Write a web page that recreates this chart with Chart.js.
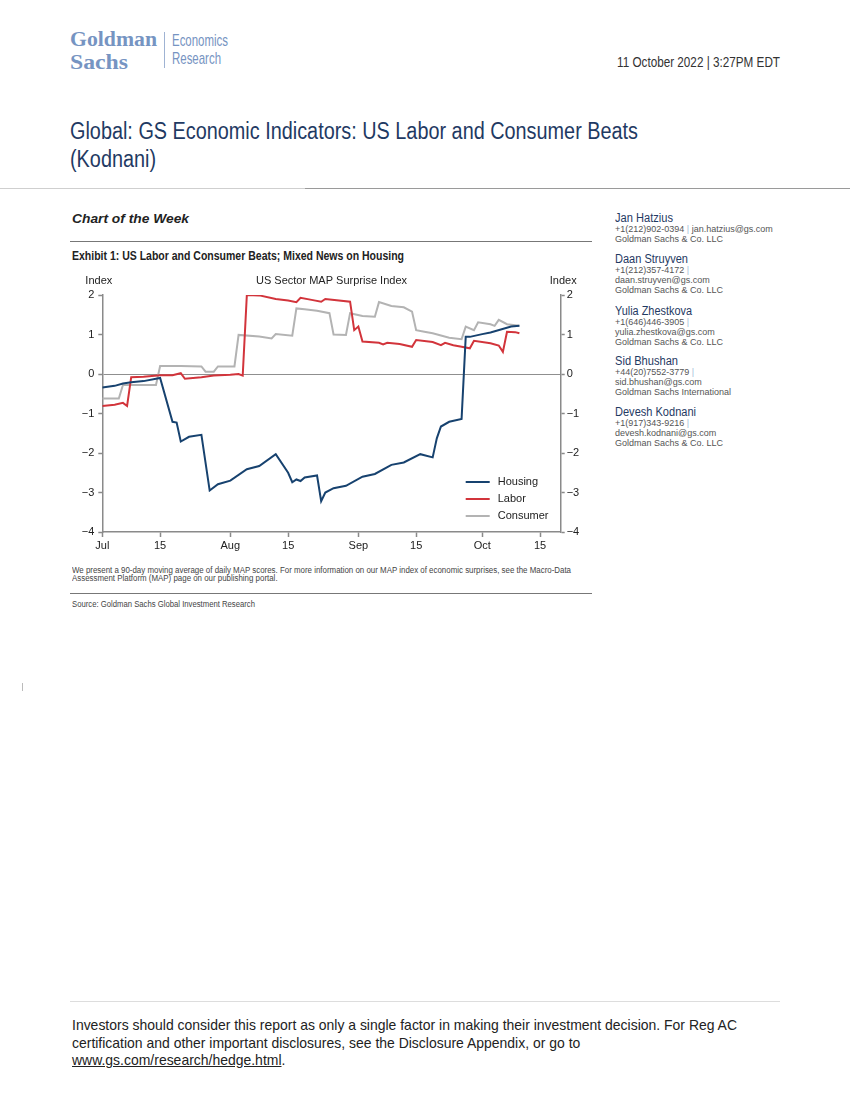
<!DOCTYPE html>
<html>
<head>
<meta charset="utf-8">
<script src="https://cdn.jsdelivr.net/npm/chart.js@4.4.0/dist/chart.umd.min.js"></script>
<style>
  body { margin: 0; background: #fff; width: 850px; height: 1100px; position: relative; overflow: hidden;
         font-family: "Liberation Sans", Arial, sans-serif; }
  .t { position: absolute; white-space: nowrap; transform-origin: left top; }
  .logo { color: #7694c2; font-family: "Liberation Serif", serif; font-weight: bold; font-size: 20px; line-height: 22px; }
  .logo2 { color: #7694c2; font-size: 17px; line-height: 18px; }
  .name { color: #1f3a63; font-size: 12.5px; line-height: 11px; }
  .det { color: #555; font-size: 9px; line-height: 10px; }
  .pipe { color: #a8bcd8; }
  .rule { position: absolute; height: 0; }
</style>
</head>
<body>

<div class="t logo fit" data-w="87" style="left:70px; top:28px;">Goldman</div>
<div class="t logo fit" data-w="58" style="left:70px; top:50.5px;">Sachs</div>
<div style="position:absolute; left:164px; top:32px; width:1px; height:36px; background:#9fb3d3;"></div>
<div class="t logo2 fit" data-w="56" style="left:172px; top:32px;">Economics<br>Research</div>
<div class="t fit" data-w="163" style="left:617px; top:54px; font-size:14px; color:#333;">11 October 2022 | 3:27PM EDT</div>

<div class="t fit" data-w="568" style="left:70px; top:117px; font-size:23px; line-height:28px; color:#1f3a63;">Global: GS Economic Indicators: US Labor and Consumer Beats<br>(Kodnani)</div>
<div class="rule" style="left:0; top:188px; width:305px; border-top:1px solid #cfcfcf;"></div>
<div class="rule" style="left:305px; top:188px; width:545px; border-top:1px solid #9a9a9a;"></div>

<div class="t fit" data-w="117" style="left:72px; top:211px; font-size:13px; font-weight:bold; font-style:italic; color:#222;">Chart of the Week</div>
<div class="rule" style="left:70px; top:241px; width:522px; border-top:1px solid #777;"></div>
<div class="t fit" data-w="332" style="left:72px; top:249px; font-size:12px; font-weight:bold; color:#222;">Exhibit 1: US Labor and Consumer Beats; Mixed News on Housing</div>

<canvas id="chart" width="530" height="290" style="position:absolute; left:70px; top:270px;"></canvas>

<div class="t fit" data-w="499" style="left:72px; top:566px; font-size:8.5px; line-height:8px; color:#444;">We present a 90-day moving average of daily MAP scores. For more information on our MAP index of economic surprises, see the Macro-Data<br>Assessment Platform (MAP) page on our publishing portal.</div>
<div class="rule" style="left:70px; top:593px; width:522px; border-top:1px solid #777;"></div>
<div class="t fit" data-w="183" style="left:72px; top:599px; font-size:8.5px; color:#444;">Source: Goldman Sachs Global Investment Research</div>

<div class="t name fit" data-w="58" style="left:615px; top:212.8px;">Jan Hatzius</div>
<div class="t det" style="left:615px; top:224px;">+1(212)902-0394 <span class="pipe">|</span> jan.hatzius@gs.com<br>Goldman Sachs &amp; Co. LLC</div>

<div class="t name fit" data-w="73" style="left:615px; top:253.8px;">Daan Struyven</div>
<div class="t det" style="left:615px; top:265px;">+1(212)357-4172 <span class="pipe">|</span><br>daan.struyven@gs.com<br>Goldman Sachs &amp; Co. LLC</div>

<div class="t name fit" data-w="77" style="left:615px; top:305.5px;">Yulia Zhestkova</div>
<div class="t det" style="left:615px; top:316.6px;">+1(646)446-3905 <span class="pipe">|</span><br>yulia.zhestkova@gs.com<br>Goldman Sachs &amp; Co. LLC</div>

<div class="t name fit" data-w="63" style="left:615px; top:355.5px;">Sid Bhushan</div>
<div class="t det" style="left:615px; top:366.6px;">+44(20)7552-3779 <span class="pipe">|</span><br>sid.bhushan@gs.com<br>Goldman Sachs International</div>

<div class="t name fit" data-w="81" style="left:615px; top:406.8px;">Devesh Kodnani</div>
<div class="t det" style="left:615px; top:418px;">+1(917)343-9216 <span class="pipe">|</span><br>devesh.kodnani@gs.com<br>Goldman Sachs &amp; Co. LLC</div>

<div style="position:absolute; left:22px; top:683px; width:1px; height:8px; background:#bbb;"></div>

<div class="rule" style="left:70px; top:1001px; width:710px; border-top:1px solid #ddd;"></div>
<div class="t fit" data-w="665" style="left:72px; top:1016px; font-size:15px; line-height:17.5px; color:#222;">Investors should consider this report as only a single factor in making their investment decision. For Reg AC<br>certification and other important disclosures, see the Disclosure Appendix, or go to<br><span style="text-decoration:underline;">www.gs.com/research/hedge.html</span>.</div>

<script>
// squeeze the condensed-looking texts to the widths they have in the report
document.querySelectorAll('.fit').forEach(el => {
  const w = el.getBoundingClientRect().width;
  el.style.transform = 'scaleX(' + (parseFloat(el.dataset.w) / w) + ')';
});

// days counted from 1 July 2022
const xTickDays = [0, 14, 31, 45, 62, 76, 92, 106];
const xTickLabels = ['Jul', '15', 'Aug', '15', 'Sep', '15', 'Oct', '15'];

const housingDays = [0, 3, 5, 7, 10, 14, 17, 18, 19, 21, 24, 26, 28, 31, 35, 38, 42, 45, 46, 47, 48, 49, 52, 53, 54, 56, 59, 63, 66, 70, 73, 77, 80, 81, 82, 84, 87, 88, 89, 92, 94, 99, 101];
const housingVals = [-0.34, -0.30, -0.24, -0.21, -0.18, -0.10, -1.21, -1.23, -1.71, -1.59, -1.54, -2.95, -2.79, -2.70, -2.41, -2.33, -2.03, -2.50, -2.74, -2.67, -2.71, -2.62, -2.57, -3.22, -3.00, -2.89, -2.83, -2.60, -2.53, -2.30, -2.24, -2.03, -2.11, -1.63, -1.33, -1.21, -1.14, 0.94, 0.94, 1.01, 1.05, 1.20, 1.22];

const laborDays = [0, 3, 5, 6, 7, 10, 14, 17, 19, 20, 24, 27, 31, 33, 34, 35, 38, 42, 45, 47, 48, 51, 53, 54, 60, 61, 62, 63, 67, 68, 69, 72, 75, 76, 80, 82, 83, 85, 87, 89, 90, 94, 96, 97, 98, 100, 101];
const laborVals = [-0.81, -0.78, -0.73, -0.81, -0.08, -0.07, -0.03, -0.03, 0.02, -0.12, -0.08, -0.04, -0.02, 0.00, -0.04, 2.00, 1.99, 1.90, 1.86, 1.82, 1.93, 1.87, 1.83, 1.90, 1.83, 1.11, 1.20, 0.82, 0.79, 0.75, 0.79, 0.76, 0.69, 0.86, 0.81, 0.73, 0.79, 0.73, 0.69, 0.65, 0.84, 0.78, 0.72, 0.56, 1.07, 1.06, 1.03];

const consumerDays = [0, 4, 5, 13, 14, 19, 24, 25, 27, 28, 32, 33, 38, 41, 42, 46, 47, 49, 52, 55, 56, 59, 60, 63, 66, 67, 70, 73, 75, 76, 78, 80, 84, 87, 88, 90, 91, 94, 95, 96, 98, 101];
const consumerVals = [-0.62, -0.62, -0.28, -0.28, 0.20, 0.20, 0.19, 0.06, 0.06, 0.19, 0.19, 0.99, 0.95, 0.90, 1.01, 0.97, 1.66, 1.64, 1.60, 1.54, 1.00, 0.99, 1.54, 1.47, 1.45, 1.82, 1.72, 1.69, 1.58, 1.11, 1.07, 1.03, 0.92, 0.88, 1.20, 1.11, 1.31, 1.26, 1.22, 1.37, 1.26, 1.22];

const yTicks = [-4, -3, -2, -1, 0, 1, 2];

const toPoints = (days, vals) => days.map((d, i) => ({ x: d, y: vals[i] }));
const minus = v => String(v).replace('-', '\u2212');
const axisGray = '#8a8a8a';
const tickFont = { family: 'Liberation Sans, Arial, sans-serif', size: 11 };

const overlay = {
  id: 'overlay',
  afterDraw(chart) {
    const ctx = chart.ctx;
    const area = chart.chartArea;
    ctx.save();
    ctx.fillStyle = '#222';
    ctx.font = '11px "Liberation Sans", Arial, sans-serif';
    ctx.textAlign = 'center';
    ctx.textBaseline = 'middle';
    ctx.fillText('US Sector MAP Surprise Index', (area.left + area.right) / 2, area.top - 14);
    ctx.fillText('Index', area.left - 3.5, area.top - 14);
    ctx.fillText('Index', area.right + 2.5, area.top - 14);

    // legend, inside the plot at the lower right
    ctx.textAlign = 'left';
    chart.data.datasets.forEach((ds, i) => {
      const y = area.bottom - 50 + i * 17;
      ctx.strokeStyle = ds.borderColor;
      ctx.lineWidth = 2;
      ctx.beginPath();
      ctx.moveTo(area.right - 95, y);
      ctx.lineTo(area.right - 71, y);
      ctx.stroke();
      ctx.fillText(ds.label, area.right - 63, y);
    });
    ctx.restore();
  }
};

new Chart(document.getElementById('chart'), {
  type: 'line',
  data: {
    datasets: [
      { label: 'Housing', data: toPoints(housingDays, housingVals), borderColor: '#17426f', yAxisID: 'y' },
      { label: 'Labor', data: toPoints(laborDays, laborVals), borderColor: '#d2343b', yAxisID: 'y' },
      { label: 'Consumer', data: toPoints(consumerDays, consumerVals), borderColor: '#b3b3b3', yAxisID: 'y' }
    ]
  },
  options: {
    responsive: false,
    animation: false,
    elements: { point: { radius: 0 }, line: { borderWidth: 2, tension: 0 } },
    layout: { padding: { top: 25 } },
    plugins: { legend: { display: false }, tooltip: { enabled: false } },
    scales: {
      x: {
        type: 'linear', min: 0, max: 111,
        afterBuildTicks: s => { s.ticks = xTickDays.map(v => ({ value: v })); },
        afterFit: s => { s.height = 28; },
        ticks: {
          autoSkip: false, maxRotation: 0, padding: 2, color: '#222', font: tickFont,
          callback: v => xTickLabels[xTickDays.indexOf(v)]
        },
        grid: { drawOnChartArea: false, tickLength: 5, tickColor: axisGray, tickWidth: 1.5 },
        border: { color: axisGray, width: 1.5 }
      },
      y: {
        min: -4, max: 2,
        afterBuildTicks: s => { s.ticks = yTicks.map(v => ({ value: v })); },
        afterFit: s => { s.width = 32.3; },
        ticks: { padding: 4, color: '#222', font: tickFont, callback: minus },
        grid: {
          drawOnChartArea: true, tickLength: 4, tickWidth: 1.5, tickColor: axisGray,
          color: c => (c.tick && c.tick.value === 0) ? '#8f8f8f' : 'rgba(0,0,0,0)',
          lineWidth: 1
        },
        border: { color: axisGray, width: 1.5 }
      },
      y2: {
        position: 'right', min: -4, max: 2,
        afterBuildTicks: s => { s.ticks = yTicks.map(v => ({ value: v })); },
        afterFit: s => { s.width = 39.3; },
        ticks: { padding: 2, color: '#222', font: tickFont, callback: minus },
        grid: { drawOnChartArea: false, tickLength: 4, tickWidth: 1.5, tickColor: axisGray },
        border: { color: axisGray, width: 1.5 }
      }
    }
  },
  plugins: [overlay]
});
</script>
</body>
</html>
